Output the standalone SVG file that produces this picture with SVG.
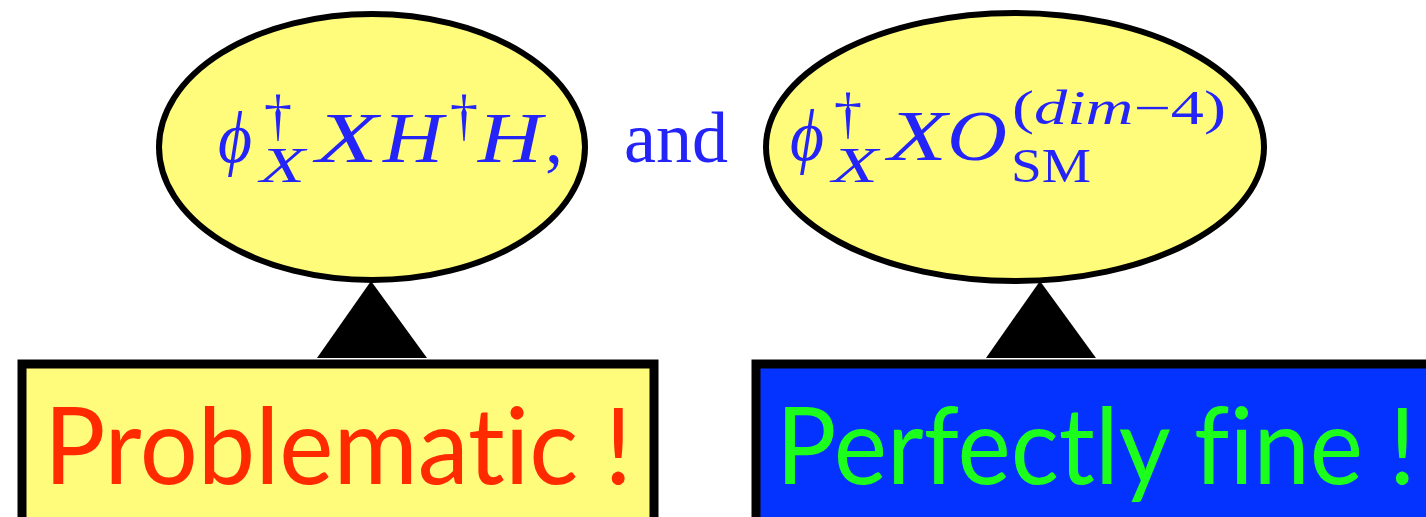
<svg xmlns="http://www.w3.org/2000/svg" width="1426" height="517" viewBox="0 0 1426 517">
<style>
.ell{fill:#fffb7b;stroke:#000;stroke-width:6}
.box{stroke:#000;stroke-width:9}
.m{font-family:"Liberation Serif",serif;fill:#2424f8}
.mi{font-family:"Liberation Serif",serif;font-style:italic;fill:#2424f8}
.big{font-family:Lato,"Open Sans",sans-serif;font-size:106px;font-variant-ligatures:no-common-ligatures}
.tri{fill:#000}
</style>
<rect width="1426" height="517" fill="#fff"/>
<g id="connectors">
<polygon class="tri" points="371,281 317,358 427,358"/>
<polygon class="tri" points="1040,281 986,358 1096,358"/>
</g>
<g id="node-left-op">
<ellipse class="ell" cx="372" cy="147" rx="213" ry="133"/>
<text class="mi" x="218" y="162" font-size="72" textLength="34" lengthAdjust="spacingAndGlyphs">ϕ</text>
<text class="m" x="264" y="134" font-size="56">†</text>
<text class="mi" x="260" y="182" font-size="50" textLength="45" lengthAdjust="spacingAndGlyphs">X</text>
<text class="mi" x="316" y="162" font-size="72" textLength="62" lengthAdjust="spacingAndGlyphs">X</text>
<text class="mi" x="383" y="162" font-size="72" textLength="60" lengthAdjust="spacingAndGlyphs">H</text>
<text class="m" x="450" y="134" font-size="56">†</text>
<text class="mi" x="478" y="162" font-size="72" textLength="64" lengthAdjust="spacingAndGlyphs">H</text>
<text class="m" x="545" y="162" font-size="72">,</text>
</g>
<g id="node-and">
<text class="m" x="624" y="162" font-size="72">and</text>
</g>
<g id="node-right-op">
<ellipse class="ell" cx="1015" cy="147" rx="249" ry="134"/>
<text class="mi" x="790" y="160" font-size="72" textLength="34" lengthAdjust="spacingAndGlyphs">ϕ</text>
<text class="m" x="834" y="132" font-size="56">†</text>
<text class="mi" x="832" y="182" font-size="50" textLength="46" lengthAdjust="spacingAndGlyphs">X</text>
<text class="mi" x="888" y="160" font-size="72" textLength="59" lengthAdjust="spacingAndGlyphs">X</text>
<text class="mi" x="947" y="160" font-size="72" textLength="60" lengthAdjust="spacingAndGlyphs">O</text>
<text class="m" x="1012" y="124" font-size="48" textLength="214" lengthAdjust="spacingAndGlyphs">(<tspan font-style="italic">dim</tspan>−4)</text>
<text class="m" x="1011" y="182" font-size="48" textLength="80" lengthAdjust="spacingAndGlyphs">SM</text>
</g>
<g id="node-problematic">
<rect class="box" x="22" y="364" width="632" height="200" fill="#fffb7b"/>
<text class="big" x="44" y="484" fill="#ff2a00" textLength="588" lengthAdjust="spacingAndGlyphs">Problematic !</text>
</g>
<g id="node-fine">
<rect class="box" x="756" y="364" width="720" height="200" fill="#0433ff"/>
<text class="big" x="776" y="484" fill="#1cff1c" textLength="640" lengthAdjust="spacingAndGlyphs">Perfectly fine !</text>
</g>
</svg>
